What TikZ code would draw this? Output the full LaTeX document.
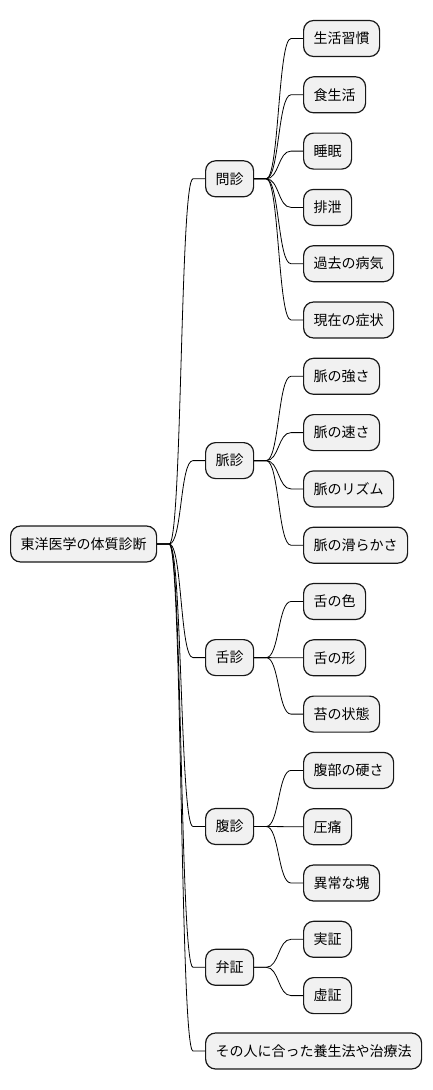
\documentclass[tikz,border=0pt]{standalone}
\usepackage{fontspec}
\usepackage{tikz}
\usetikzlibrary{calc,positioning}
\newfontfamily\jpfont{Noto Sans CJK JP}
\definecolor{boxfill}{HTML}{F1F1F1}
\definecolor{boxline}{HTML}{181818}
\tikzset{
    topic/.style={
        rectangle,
        rounded corners=10pt,
        draw=boxline, line width=1.2pt,
        fill=boxfill,
        minimum height=36pt,
        inner xsep=10pt,
        anchor=west,
        font={\jpfont\fontsize{14pt}{16pt}\selectfont}
    },
    branch/.style={draw=black, line width=0.8pt},
}
\newcommand{\mmlink}[2]{%
    \draw[branch] (#1.east) -- ++(12,0)
        .. controls +(13,0) and +(-13,0) .. ($(#2.west)+(-12,0)$) -- (#2.west);}

\begin{document}
\begin{tikzpicture}[x=1pt, y=-1pt]
\useasboundingbox (0,0) rectangle (432,1090);
% root and first level
\node[topic](root) at (10, 544){東洋医学の体質診断};
\node[topic](monshin) at (205, 178.8){問診};
\node[topic](myakushin) at (205, 460.6){脈診};
\node[topic](zesshin) at (205, 657.6){舌診};
\node[topic](fukushin) at (205, 826.5){腹診};
\node[topic](bensho) at (205, 967.3){弁証};
\node[topic](yojo) at (205, 1051){その人に合った養生法や治療法};
% leaves
\foreach \n/\t [count=\i from 0] in {
    shukan/生活習慣, shoku/食生活, suimin/睡眠, haisetsu/排泄,
    kako/過去の病気, genzai/現在の症状,
    tsuyosa/脈の強さ, hayasa/脈の速さ, rizumu/脈のリズム, nameraka/脈の滑らかさ,
    iro/舌の色, katachi/舌の形, koke/苔の状態,
    katasa/腹部の硬さ, atsutsu/圧痛, katamari/異常な塊,
    jissho/実証, kyosho/虚証}
    \node[topic](\n) at (303, 38.5+56.3*\i){\t};
% connectors
\foreach \b in {monshin, myakushin, zesshin, fukushin, bensho, yojo}
    {\mmlink{root}{\b}}
\foreach \b in {shukan, shoku, suimin, haisetsu, kako, genzai}
    {\mmlink{monshin}{\b}}
\foreach \b in {tsuyosa, hayasa, rizumu, nameraka}
    {\mmlink{myakushin}{\b}}
\foreach \b in {iro, katachi, koke}
    {\mmlink{zesshin}{\b}}
\foreach \b in {katasa, atsutsu, katamari}
    {\mmlink{fukushin}{\b}}
\foreach \b in {jissho, kyosho}
    {\mmlink{bensho}{\b}}
\end{tikzpicture}
\end{document}
